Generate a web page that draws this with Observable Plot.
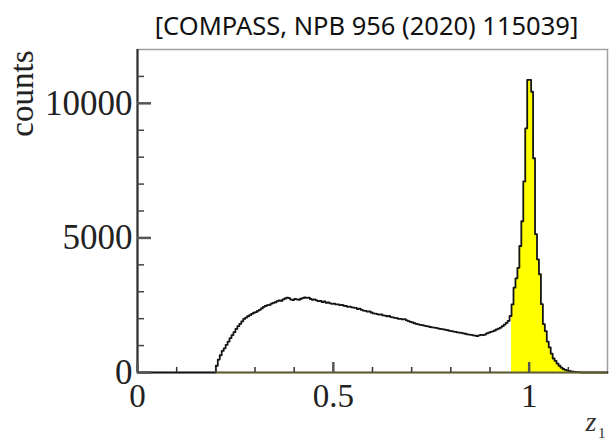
<!DOCTYPE html>
<html>
<head>
<meta charset="utf-8">
<script src="https://cdn.jsdelivr.net/npm/d3@7"></script>
<script src="https://cdn.jsdelivr.net/npm/@observablehq/plot@0.6"></script>
<style>
  html, body { margin: 0; padding: 0; background: #ffffff; }
  #chart svg { display: block; overflow: visible; }
</style>
</head>
<body>
<div id="chart"></div>
<script>
// ---- data ----
const title = "[COMPASS, NPB 956 (2020) 115039]";
const yLabel = "counts";
const xLabelMain = "z";
const xLabelSub = "1";
const binWidth = 0.005;
const firstEdge = 0.2;           // lower edge of first non-empty bin
const yellowFrom = 0.955;        // highlighted region z1 >= 0.955
const counts = [
  250, 480, 640, 800, 900, 1030, 1150, 1280, 1390, 1500,
  1620, 1720, 1810, 1900, 1990, 2040, 2090, 2130, 2180, 2220,
  2240, 2290, 2330, 2380, 2440, 2470, 2500, 2510, 2560, 2590,
  2610, 2650, 2680, 2660, 2720, 2750, 2780, 2760, 2710, 2690,
  2730, 2720, 2700, 2740, 2760, 2790, 2770, 2780, 2730, 2700,
  2720, 2680, 2650, 2660, 2620, 2640, 2590, 2600, 2570, 2550,
  2560, 2530, 2530, 2500, 2510, 2480, 2470, 2440, 2450, 2420,
  2410, 2400, 2360, 2370, 2330, 2300, 2290, 2260, 2270, 2230,
  2200, 2190, 2170, 2150, 2160, 2120, 2110, 2090, 2100, 2060,
  2050, 2030, 2020, 1990, 1990, 1970, 1980, 1940, 1910, 1880,
  1860, 1830, 1810, 1790, 1770, 1760, 1740, 1720, 1710, 1690,
  1680, 1670, 1660, 1640, 1620, 1610, 1600, 1580, 1570, 1550,
  1540, 1520, 1510, 1490, 1480, 1470, 1450, 1440, 1420, 1410,
  1400, 1380, 1370, 1350, 1380, 1400, 1390, 1410, 1450, 1480,
  1510, 1530, 1560, 1600, 1630, 1670, 1720, 1780, 1840, 1920,
  2100, 2530, 3150, 3500, 3890, 4700, 5620, 7100, 9070, 10870,
  10870, 10430, 7960, 5140, 4200, 3650, 2540, 1800, 1540, 1150,
  930, 700, 520, 430, 330, 250, 180, 130, 100, 80,
  60, 45, 35, 25, 15, 10, 5
];
const xMajor = [0, 0.5, 1];
const xMinor = [0.1, 0.2, 0.3, 0.4, 0.6, 0.7, 0.8, 0.9, 1.1];
const yMajor = [0, 5000, 10000];
const yMinor = [1000, 2000, 3000, 4000, 6000, 7000, 8000, 9000, 11000];

// ---- layout ----
const W = 610, H = 444, mL = 137, mR = 3, mT = 49, mB = 72;
const innerW = W - mL - mR, innerH = H - mT - mB;

// ---- derived tables ----
const bins = counts.map((v, i) => ({
  x1: +(firstEdge + i * binWidth).toFixed(3),
  x2: +(firstEdge + (i + 1) * binWidth).toFixed(3),
  v
}));
const lastEdge = bins[bins.length - 1].x2;
const steps = [{x: 0, v: 0}, ...bins.map(b => ({x: b.x1, v: b.v})), {x: lastEdge, v: 0}, {x: 1.2, v: 0}];
const yellowSteps = [...bins.filter(b => b.x1 >= yellowFrom - 1e-9).map(b => ({x: b.x1, v: b.v})), {x: lastEdge, v: 0}];

const serif = "'Liberation Serif', 'DejaVu Serif', serif";
const sans = "'Noto Sans', 'Open Sans', sans-serif";

const chart = Plot.plot({
  width: W,
  height: H,
  marginLeft: mL,
  marginRight: mR,
  marginTop: mT,
  marginBottom: mB,
  x: {domain: [0, 1.2], axis: null},
  y: {domain: [0, 12000], axis: null},
  style: {background: "#ffffff", color: "#111"},
  marks: [
    Plot.frame({stroke: "#a0a0a0", strokeWidth: 1.5}),
    Plot.areaY(yellowSteps, {x: "x", y: "v", curve: "step-after", fill: "#ffff00"}),
    Plot.lineY(steps, {x: "x", y: "v", curve: "step-after", stroke: "#151515", strokeWidth: 1.8}),
    Plot.ruleY([0], {x1: 0.2, x2: 1.2, stroke: "#5e5e30", strokeWidth: 2}),
    Plot.ruleX([0], {stroke: "#333", strokeWidth: 2.2}),
    // x ticks (inward from the bottom)
    Plot.tickX(xMajor, {x: d => d, insetTop: innerH - 10, stroke: "#555", strokeWidth: 2.5}),
    Plot.tickX(xMinor, {x: d => d, insetTop: innerH - 5, stroke: "#333", strokeWidth: 1.5}),
    // y ticks (inward from the left)
    Plot.tickY(yMajor, {y: d => d, insetRight: innerW - 14, stroke: "#555", strokeWidth: 2.5}),
    Plot.tickY(yMinor, {y: d => d, insetRight: innerW - 7, stroke: "#444", strokeWidth: 1.5}),
    // tick labels
    Plot.text(yMajor, {x: 0, y: d => d, text: d => String(d), textAnchor: "end", dx: -5, fontSize: 35, fontFamily: serif, fill: "#222"}),
    Plot.text(xMajor, {x: d => d, y: 0, text: d => String(d), dy: 24, fontSize: 33, fontFamily: serif, fill: "#222"}),
    // axis titles
    Plot.text([yLabel], {frameAnchor: "top-left", text: d => d, rotate: -90, textAnchor: "end", lineAnchor: "bottom", dx: -105, dy: 1, fontSize: 33, fontFamily: serif, fill: "#222"}),
    Plot.text([xLabelMain], {frameAnchor: "bottom-right", text: d => d, dx: -11, dy: 58, fontSize: 28, fontStyle: "italic", fontFamily: serif, fill: "#333"}),
    Plot.text([xLabelSub], {frameAnchor: "bottom-right", text: d => d, dx: -2, dy: 65, fontSize: 15, fontFamily: serif, fill: "#333"}),
    // title
    Plot.text([title], {frameAnchor: "top", text: d => d, dx: -6, dy: -33, fontSize: 25.5, fontFamily: sans, fill: "#111"})
  ]
});
document.getElementById("chart").appendChild(chart);
</script>
</body>
</html>
